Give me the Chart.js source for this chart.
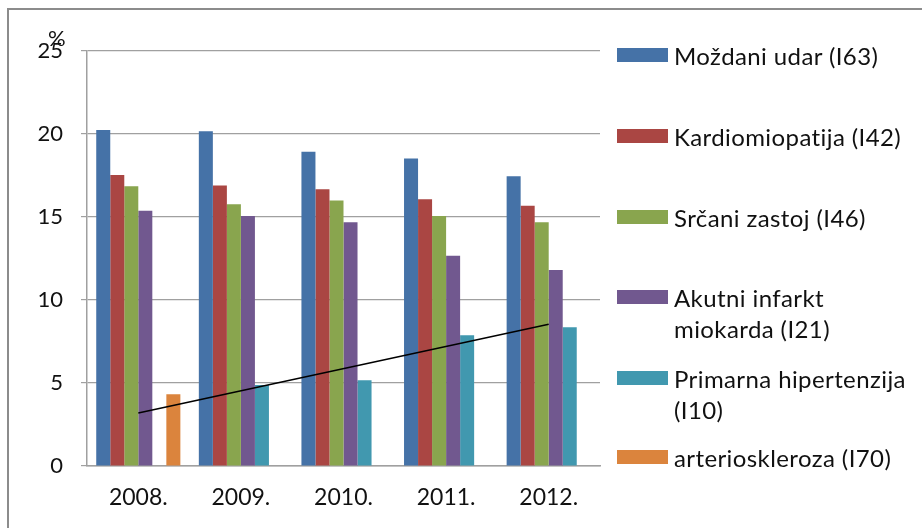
<!DOCTYPE html>
<html>
<head>
<meta charset="utf-8">
<script src="https://cdn.jsdelivr.net/npm/chart.js@4/dist/chart.umd.min.js"></script>
<style>
  html, body { margin: 0; padding: 0; background: #fff; }
  #wrap { position: relative; width: 922px; height: 528px; overflow: hidden; font-family: Lato, "Open Sans", sans-serif; }
  #frame { position: absolute; left: 7px; top: 8px; width: 1000px; height: 600px; border-left: 2px solid #8c8c8c; border-top: 2px solid #8c8c8c; }
  #c { position: absolute; left: 0; top: 0; }
  #unit { position: absolute; left: 48px; top: 24px; font-size: 22px; color: #111; }
  #legend { position: absolute; left: 0; top: 0; width: 922px; height: 528px; pointer-events: none; }
  .lg-item { position: absolute; left: 617px; }
  .lg-box { position: absolute; left: 0; width: 51px; height: 14px; }
  .lg-text { position: absolute; left: 57px; font-size: 24px; letter-spacing: 0.4px; line-height: 31px; color: #111; white-space: nowrap; }
</style>
</head>
<body>
<div id="wrap">
  <div id="frame"></div>
  <canvas id="c" width="922" height="528"></canvas>
  <div id="unit">%</div>
  <div id="legend"></div>
</div>
<script>
const years = ['2008.', '2009.', '2010.', '2011.', '2012.'];
const seriesNames = [
  ['Moždani udar (I63)'],
  ['Kardiomiopatija (I42)'],
  ['Srčani zastoj (I46)'],
  ['Akutni infarkt', 'miokarda (I21)'],
  ['Primarna hipertenzija', '(I10)'],
  ['arterioskleroza (I70)']
];
const mozdaniUdar = [20.24, 20.16, 18.93, 18.53, 17.45];
const kardiomiopatija = [17.53, 16.90, 16.67, 16.07, 15.68];
const srcaniZastoj = [16.85, 15.77, 16.00, 15.06, 14.68];
const akutniInfarkt = [15.38, 15.06, 14.68, 12.67, 11.81];
const primarnaHipertenzija = [null, 4.88, 5.16, 7.87, 8.36];
const arterioskleroza = [4.32, null, null, null, null];
const trendLine = [3.19, null, null, null, 8.54];
const yTicks = [0, 5, 10, 15, 20, 25];

const colors = ['#4572A7', '#AA4643', '#89A54E', '#71588F', '#4198AF', '#DB843D'];
const seriesData = [mozdaniUdar, kardiomiopatija, srcaniZastoj, akutniInfarkt, primarnaHipertenzija, arterioskleroza];

const datasets = seriesData.map((d, i) => ({
  type: 'bar',
  label: seriesNames[i].join(' '),
  data: d,
  backgroundColor: colors[i],
  borderWidth: 0,
  order: 1,
  categoryPercentage: 0.82,
  barPercentage: 1.0
}));
datasets.push({
  type: 'line',
  label: 'trend',
  data: trendLine,
  spanGaps: true,
  borderColor: '#000',
  borderWidth: 1.5,
  pointRadius: 0,
  fill: false,
  order: 0
});

const chart = new Chart(document.getElementById('c'), {
  type: 'bar',
  data: { labels: years, datasets },
  options: {
    responsive: false,
    animation: false,
    devicePixelRatio: 1,
    layout: { padding: { left: 0, top: 51, right: 322, bottom: 0 } },
    plugins: { legend: { display: false }, tooltip: { enabled: false }, title: { display: false } },
    scales: {
      x: {
        grid: { display: false, drawTicks: false },
        border: { display: true, color: '#a0a0a0', width: 1.5 },
        ticks: { color: '#111', font: { family: 'Lato', size: 23 }, padding: 18 },
        afterFit: (s) => { s.height = 62; }
      },
      y: {
        min: 0, max: 25,
        afterBuildTicks: (s) => { s.ticks = yTicks.map(v => ({ value: v })); },
        grid: { color: '#a0a0a0', lineWidth: 1.2, tickLength: 6, drawTicks: true },
        border: { display: true, color: '#a0a0a0', width: 1.5 },
        ticks: { color: '#111', font: { family: 'Lato', size: 22 }, padding: 18 },
        afterFit: (s) => { s.width = 87; }
      }
    }
  }
});

// HTML legend built from the datasets
const legendY = [55, 136, 217, 297, 378, 457];
const lg = document.getElementById('legend');
seriesNames.forEach((lines, i) => {
  const item = document.createElement('div');
  item.className = 'lg-item';
  item.style.top = legendY[i] + 'px';
  const box = document.createElement('div');
  box.className = 'lg-box';
  box.style.background = colors[i];
  box.style.top = '-7px';
  const txt = document.createElement('div');
  txt.className = 'lg-text';
  txt.style.top = '-15.5px';
  txt.innerHTML = lines.join('<br>');
  item.appendChild(box);
  item.appendChild(txt);
  lg.appendChild(item);
});
</script>
</body>
</html>
